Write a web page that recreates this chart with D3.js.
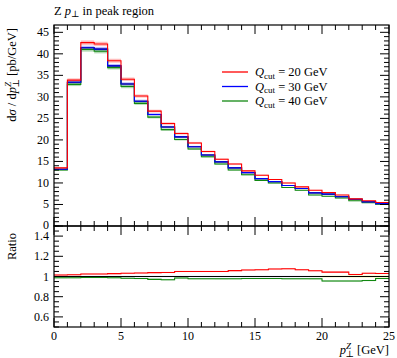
<!DOCTYPE html>
<html>
<head>
<meta charset="utf-8">
<script src="https://cdn.jsdelivr.net/npm/d3@7"></script>
<style>
  body { margin: 0; background: #fff; }
  text { font-family: "Liberation Serif", "DejaVu Serif", serif; fill: #000; }
</style>
</head>
<body>
<div id="chart"></div>
<script>
// bin edges of p_T^Z [GeV]
var binEdges = [0,1,2,3,4,5,6,7,8,9,10,11,12,13,14,15,16,17,18,19,20,21,22,23,24,25];

// dsigma/dpT [pb/GeV]
var q20 = [13.5, 33.9, 42.6, 42.3, 38.4, 34.1, 30.2, 26.7, 23.8, 21.5, 19.3, 17.3, 15.5, 14.4, 12.8, 11.8, 10.8, 10.0, 9.1, 8.3, 7.8, 7.2, 6.3, 5.85, 5.45];
var q30 = [13.2, 33.4, 41.4, 41.1, 37.2, 33.0, 29.0, 25.9, 23.0, 20.7, 18.4, 16.5, 14.9, 13.5, 12.4, 11.0, 10.3, 9.4, 8.7, 7.7, 7.4, 6.8, 6.2, 5.6, 5.2];
var q40 = [13.0, 32.9, 41.0, 40.6, 36.8, 32.4, 28.5, 25.3, 22.4, 20.1, 17.9, 16.1, 14.4, 13.0, 11.9, 10.6, 10.0, 8.95, 8.3, 7.2, 6.9, 6.5, 5.85, 5.4, 5.07];
var reference = [13.2, 33.4, 41.4, 41.1, 37.2, 33.0, 29.0, 25.9, 23.0, 20.7, 18.4, 16.5, 14.9, 13.5, 12.4, 11.0, 10.3, 9.4, 8.7, 7.7, 7.4, 6.8, 6.2, 5.6, 5.2];

// ratio panel values
var ratio20 = [1.015, 1.018, 1.025, 1.025, 1.028, 1.032, 1.035, 1.038, 1.04, 1.05, 1.05, 1.05, 1.05, 1.058, 1.065, 1.067, 1.075, 1.076, 1.067, 1.057, 1.043, 1.043, 1.02, 1.032, 1.03];
var ratio30 = [1,1,1,1,1,1,1,1,1,1,1,1,1,1,1,1,1,1,1,1,1,1,1,1,1];
var ratio40 = [0.987, 0.988, 0.99, 0.99, 0.988, 0.982, 0.98, 0.972, 0.968, 0.985, 0.978, 0.978, 0.977, 0.978, 0.98, 0.98, 0.98, 0.978, 0.978, 0.977, 0.955, 0.955, 0.955, 0.96, 0.98];
var refErr = [0.002,0.002,0.002,0.002,0.002,0.002,0.002,0.002,0.002,0.002,0.002,0.002,0.002,0.003,0.003,0.003,0.004,0.004,0.005,0.006,0.008,0.008,0.009,0.009,0.009];

var xTicks = [0, 5, 10, 15, 20, 25];
var yTicks = [0, 5, 10, 15, 20, 25, 30, 35, 40, 45];
var rTicks = [0.6, 0.8, 1, 1.2, 1.4];
var legendLabels = ["20", "30", "40"];

var W = 397, H = 358;
var pLeft = 54, pRight = 389, pTop = 25, pMid = 226, pBottom = 327;

var svg = d3.select('#chart').append('svg')
  .attr('width', W).attr('height', H);

var x = d3.scaleLinear().domain([0, 25]).range([pLeft, pRight]);
var y = d3.scaleLinear().domain([0, 46.7]).range([pMid, pTop]);
var yr = d3.scaleLinear().domain([0.5, 1.5]).range([pBottom, pMid]);

var series = [
  {vals: q20, ratio: ratio20, colour: '#ff0000', band: 'rgba(255,90,90,0.4)'},
  {vals: q30, ratio: ratio30, colour: '#0000ff', band: 'rgba(90,90,255,0.4)'},
  {vals: q40, ratio: ratio40, colour: '#118811', band: 'rgba(60,160,60,0.4)'}
];

stepPath = (vals, ys) => {
  let p = 'M' + x(binEdges[0]) + ',' + ys(vals[0]);
  vals.forEach((v, i) => {
    p += 'V' + ys(v) + 'H' + x(binEdges[i + 1]);
  });
  return p;
};

svg.append('clipPath').attr('id', 'clipMain')
  .append('rect').attr('x', pLeft).attr('y', pTop).attr('width', pRight - pLeft).attr('height', pMid - pTop);
svg.append('clipPath').attr('id', 'clipRatio')
  .append('rect').attr('x', pLeft).attr('y', pMid).attr('width', pRight - pLeft).attr('height', pBottom - pMid);

var gMain = svg.append('g').attr('clip-path', 'url(#clipMain)');
var gRatio = svg.append('g').attr('clip-path', 'url(#clipRatio)');

// error bands
series.forEach(s => {
  gMain.selectAll(null).data(s.vals).enter().append('rect')
    .attr('x', (d, i) => x(binEdges[i]))
    .attr('width', (d, i) => x(binEdges[i + 1]) - x(binEdges[i]))
    .attr('y', d => y(d * 1.012))
    .attr('height', d => y(d * 0.988) - y(d * 1.012))
    .attr('fill', s.band);
  gRatio.selectAll(null).data(s.ratio).enter().append('rect')
    .attr('x', (d, i) => x(binEdges[i]))
    .attr('width', (d, i) => x(binEdges[i + 1]) - x(binEdges[i]))
    .attr('y', d => yr(d + 0.006))
    .attr('height', d => yr(d - 0.006) - yr(d + 0.006))
    .attr('fill', s.band);
});
gRatio.selectAll(null).data(refErr).enter().append('rect')
  .attr('x', (d, i) => x(binEdges[i]))
  .attr('width', (d, i) => x(binEdges[i + 1]) - x(binEdges[i]))
  .attr('y', d => yr(1 + d))
  .attr('height', d => yr(1 - d) - yr(1 + d))
  .attr('fill', 'rgba(255,255,120,0.8)');

// histograms
gMain.append('path').attr('d', stepPath(reference, y))
  .attr('fill', 'none').attr('stroke', '#000').attr('stroke-width', 1.1);
series.slice().reverse().forEach(s => {
  gMain.append('path').attr('d', stepPath(s.vals, y))
    .attr('fill', 'none').attr('stroke', s.colour).attr('stroke-width', 1.1);
});
series.forEach(s => {
  gRatio.append('path').attr('d', stepPath(s.ratio, yr))
    .attr('fill', 'none').attr('stroke', s.colour).attr('stroke-width', 1.1);
});
gRatio.append('path').attr('d', stepPath(ratio30.map(() => 1), yr))
  .attr('fill', 'none').attr('stroke', '#000').attr('stroke-width', 1.1);

// frames
[[pTop, pMid], [pMid, pBottom]].forEach(p => {
  svg.append('rect').attr('x', pLeft).attr('y', p[0])
    .attr('width', pRight - pLeft).attr('height', p[1] - p[0])
    .attr('fill', 'none').attr('stroke', '#000').attr('stroke-width', 1.2);
});

// ticks (inward, on all sides)
var tk = svg.append('g').attr('stroke', '#000').attr('stroke-width', 1);
var majL = 9, minL = 5;
[[pTop, 1], [pMid, -1], [pMid, 1], [pBottom, -1]].forEach(e => {
  d3.range(0, 25.01, 1).forEach(v => {
    let L = (v % 5 === 0) ? majL : minL;
    tk.append('line').attr('x1', x(v)).attr('x2', x(v))
      .attr('y1', e[0]).attr('y2', e[0] + e[1] * L);
  });
});
d3.range(0, 46.5, 1).forEach(v => {
  let L = (v % 5 === 0) ? majL : minL;
  [[pLeft, 1], [pRight, -1]].forEach(e => {
    tk.append('line').attr('x1', e[0]).attr('x2', e[0] + e[1] * L)
      .attr('y1', y(v)).attr('y2', y(v));
  });
});
d3.range(0, 21, 1).map(i => 0.5 + i * 0.05).forEach(v => {
  let major = Math.abs(Math.round(v * 5) - v * 5) < 1e-6;
  let L = major ? majL : minL;
  [[pLeft, 1], [pRight, -1]].forEach(e => {
    tk.append('line').attr('x1', e[0]).attr('x2', e[0] + e[1] * L)
      .attr('y1', yr(v)).attr('y2', yr(v));
  });
});

// tick labels
svg.selectAll('.ylab').data(yTicks).enter().append('text')
  .attr('x', 49).attr('y', d => y(d) + (d === 0 ? 2.5 : 4))
  .attr('text-anchor', 'end').attr('font-size', 12).text(d => d);
svg.selectAll('.rlab').data(rTicks).enter().append('text')
  .attr('x', 49).attr('y', d => yr(d) + 4)
  .attr('text-anchor', 'end').attr('font-size', 12).text(d => d === 1 ? '1' : d.toFixed(1));
svg.selectAll('.xlab').data(xTicks).enter().append('text')
  .attr('x', d => x(d)).attr('y', 340)
  .attr('text-anchor', 'middle').attr('font-size', 12).text(d => d);

// title
var t = svg.append('text').attr('x', pLeft).attr('y', 15).attr('font-size', 12.5);
t.append('tspan').text('Z ');
t.append('tspan').attr('font-style', 'italic').text('p');
t.append('tspan').attr('font-size', 9).attr('dy', 2).text('⊥');
t.append('tspan').attr('dy', -2).text(' in peak region');

// y label
var yl = svg.append('text').attr('transform', 'translate(16,28) rotate(-90)')
  .attr('text-anchor', 'end').attr('font-size', 12.5);
yl.append('tspan').text('d');
yl.append('tspan').attr('font-style', 'italic').text('σ');
yl.append('tspan').text(' / d');
yl.append('tspan').attr('font-style', 'italic').text('p');
yl.append('tspan').attr('font-size', 9).attr('font-style', 'italic').attr('dy', -5).text('Z');
yl.append('tspan').attr('font-size', 9).attr('dx', -5.5).attr('dy', 8).text('⊥');
yl.append('tspan').attr('dy', -3).text(' [pb/GeV]');

svg.append('text').attr('transform', 'translate(16,233) rotate(-90)')
  .attr('text-anchor', 'end').attr('font-size', 12.5).text('Ratio');

// x label
var xl = svg.append('text').attr('x', pRight).attr('y', 354)
  .attr('text-anchor', 'end').attr('font-size', 12.5);
xl.append('tspan').attr('font-style', 'italic').text('p');
xl.append('tspan').attr('font-size', 9).attr('font-style', 'italic').attr('dy', -5).text('Z');
xl.append('tspan').attr('font-size', 9).attr('dx', -5.5).attr('dy', 8).text('⊥');
xl.append('tspan').attr('dy', -3).text(' [GeV]');

// legend
var lg = svg.append('g');
series.forEach((s, i) => {
  let ly = 72 + i * 14.5;
  lg.append('line').attr('x1', 222).attr('x2', 248).attr('y1', ly).attr('y2', ly)
    .attr('stroke', s.colour).attr('stroke-width', 1.3);
  let tx = lg.append('text').attr('x', 255).attr('y', ly + 4).attr('font-size', 12.5);
  tx.append('tspan').attr('font-style', 'italic').text('Q');
  tx.append('tspan').attr('font-size', 9).attr('dy', 2.5).text('cut');
  tx.append('tspan').attr('dy', -2.5).text(' = ' + legendLabels[i] + ' GeV');
});
</script>
</body>
</html>
